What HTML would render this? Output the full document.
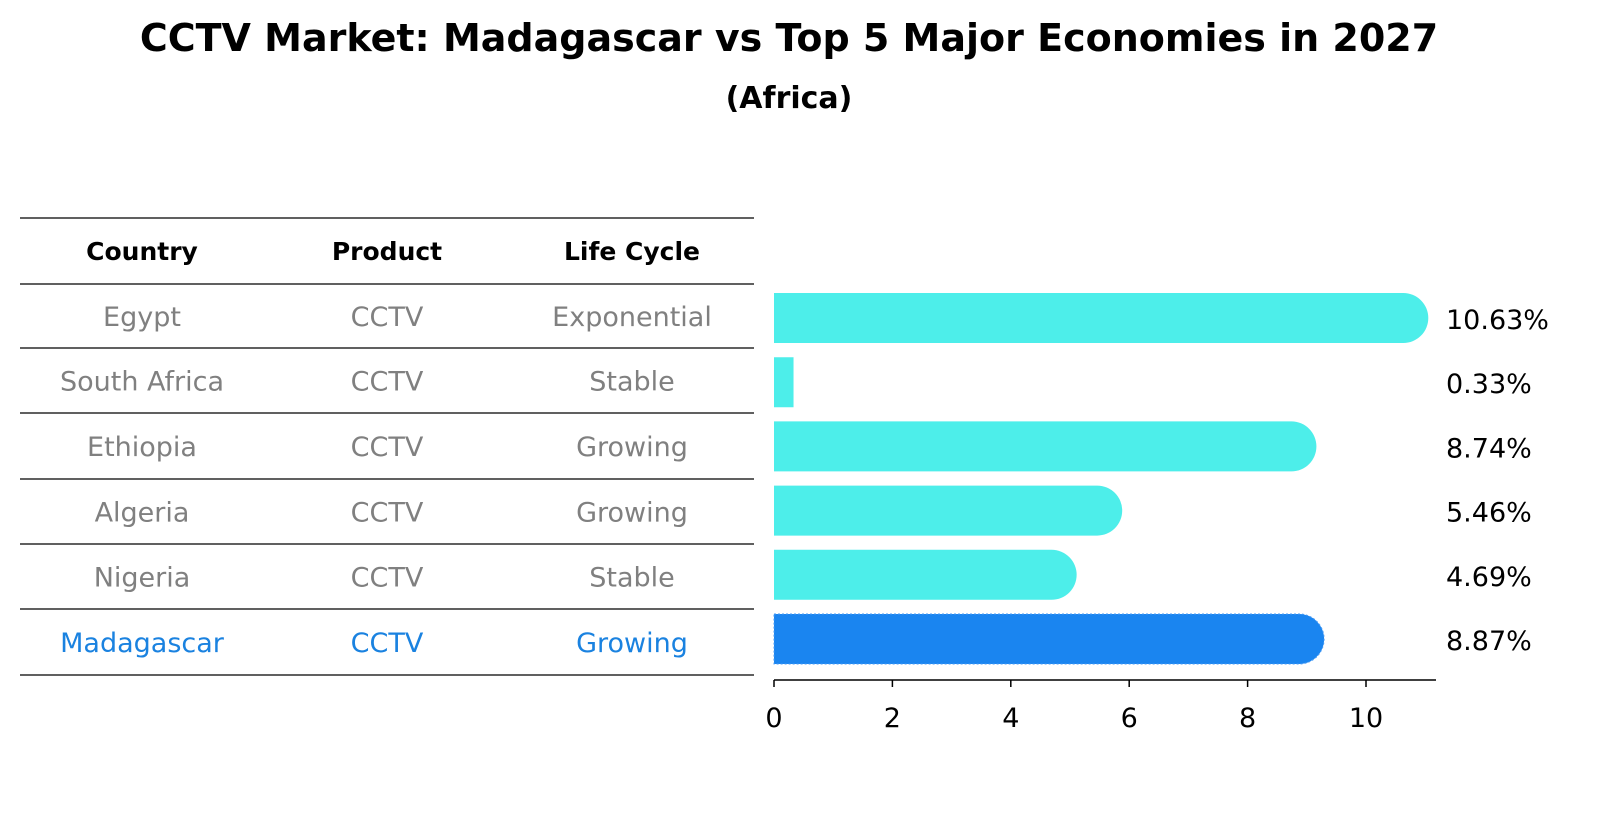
<!DOCTYPE html>
<html><head><meta charset="utf-8"><style>
body{margin:0;background:#fff;font-family:"Liberation Sans","DejaVu Sans",sans-serif;}
svg text{font-family:"DejaVu Sans","Liberation Sans",sans-serif;}
</style></head><body>
<svg id="c" width="1604" height="823" xmlns="http://www.w3.org/2000/svg">
<text x="789" y="51" text-anchor="middle" font-size="38" font-weight="bold">CCTV Market: Madagascar vs Top 5 Major Economies in 2027</text>
<text x="789" y="108" text-anchor="middle" font-size="30" font-weight="bold">(Africa)</text>
<g id="tbl"></g>
<g id="bars"></g>
<g id="axis"></g>
</svg>
<script>
const countries=["Egypt","South Africa","Ethiopia","Algeria","Nigeria","Madagascar"];
const products=["CCTV","CCTV","CCTV","CCTV","CCTV","CCTV"];
const lifecycle=["Exponential","Stable","Growing","Growing","Stable","Growing"];
const values=[10.63,0.33,8.74,5.46,4.69,8.87];
const labels=["10.63%","0.33%","8.74%","5.46%","4.69%","8.87%"];
const ticks=[0,2,4,6,8,10];
const NS="http://www.w3.org/2000/svg";
function mk(t,a,p,txt){const e=document.createElementNS(NS,t);for(const k in a)e.setAttribute(k,a[k]);if(txt!==undefined)e.textContent=txt;p.appendChild(e);return e;}
const x=v=>774+v*59.2;
const rowY=i=>318+i*64.2;
const tbl=document.getElementById('tbl'),bars=document.getElementById('bars'),axis=document.getElementById('axis');
const lines=[218,284,348,413,479,544,609,675];
lines.forEach(y=>{const l=mk('line',{x1:20,x2:754,y1:y,y2:y,stroke:'#000','stroke-width':1.3},tbl);
});
const cols=[142,387,632];
["Country","Product","Life Cycle"].forEach((h,j)=>{const t=mk('text',{x:cols[j],y:260,'text-anchor':'middle','font-size':25,'font-weight':'bold'},tbl,h);
});
countries.forEach((c,i)=>{
 const col=i===5?'#1a82e0':'#808080';
 const yc=(lines[i+1]+lines[i+2])/2+10;
 [c,products[i],lifecycle[i]].forEach((s,j)=>{const t=mk('text',{x:cols[j],y:yc,'text-anchor':'middle','font-size':27,fill:col},tbl,s);
 });
 const y=rowY(i),h=50,w=x(values[i])-x(0),r=h/2;
 const fill=i===5?'#1a85f0':'#4deeea';
 let d;
 if(w>r*2) d=`M${x(0)},${y-r}H${x(values[i])}A${r},${r} 0 0 1 ${x(values[i])},${y+r}H${x(0)}Z`;
 else d=`M${x(0)},${y-r}H${x(values[i])}V${y+r}H${x(0)}Z`;
 const b=mk('path',{d:d,fill:fill},bars);
 if(i===5){b.setAttribute('stroke','#4a9cf5');b.setAttribute('stroke-dasharray','2 2');}
 
 const t=mk('text',{x:1446,y:y+11,'font-size':27},bars,labels[i]);
 
});
const al=mk('line',{x1:774,x2:1436,y1:680,y2:680,stroke:'#000','stroke-width':1.5},axis);

ticks.forEach(v=>{const tk=mk('line',{x1:x(v),x2:x(v),y1:680,y2:687,stroke:'#000','stroke-width':1.5},axis);

const t=mk('text',{x:x(v),y:727,'text-anchor':'middle','font-size':27},axis,String(v));
});
</script>
</body></html>
